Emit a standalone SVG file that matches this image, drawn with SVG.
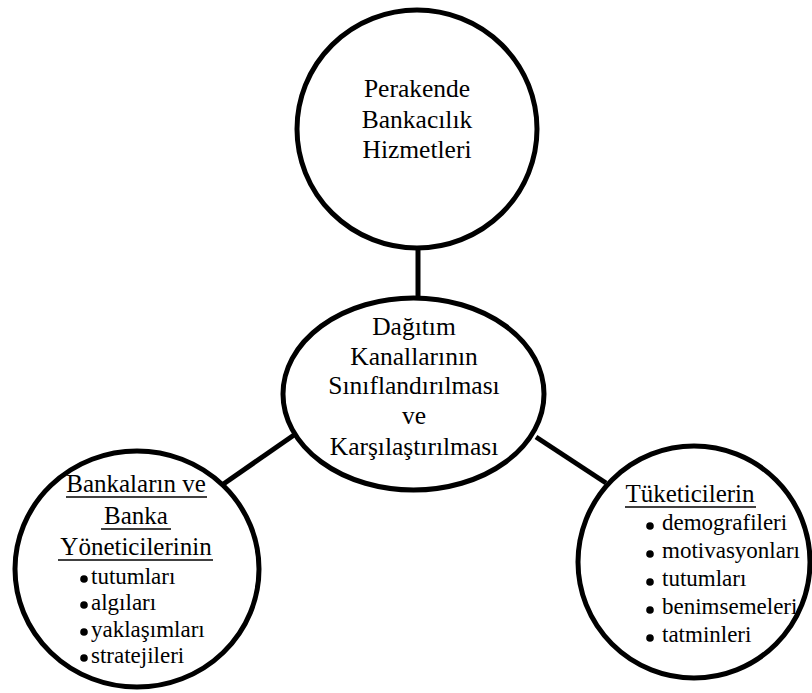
<svg xmlns="http://www.w3.org/2000/svg" width="812" height="693" viewBox="0 0 812 693">
  <style>
    .shape { fill: #ffffff; stroke: #000000; stroke-width: 5; }
    .link { stroke: #000000; stroke-width: 5; fill: none; }
    .t { font-family: "Liberation Serif", "Times New Roman", serif; fill: #000000; }
    .big { font-size: 25.5px; text-anchor: middle; }
    .head { font-size: 25px; text-anchor: middle; }
    .rule { stroke: #000000; stroke-width: 1.3; }
    .item { font-size: 23px; }
    .dot { fill: #000000; }
  </style>

  <!-- connectors -->
  <g id="connectors">
    <line class="link" x1="418" y1="248" x2="418" y2="300"/>
    <line class="link" x1="222" y1="485" x2="294" y2="435"/>
    <line class="link" x1="536" y1="437" x2="606" y2="483"/>
  </g>

  <!-- top node -->
  <g id="node-services">
    <ellipse class="shape" cx="417" cy="129" rx="120" ry="119"/>
    <text class="t big" x="417" y="97">Perakende</text>
    <text class="t big" x="417" y="128">Bankacılık</text>
    <text class="t big" x="417" y="158">Hizmetleri</text>
  </g>

  <!-- central node -->
  <g id="node-channels">
    <ellipse class="shape" cx="413.5" cy="394" rx="130.5" ry="96"/>
    <text class="t big" x="414" y="335">Dağıtım</text>
    <text class="t big" x="414" y="365">Kanallarının</text>
    <text class="t big" x="414" y="394">Sınıflandırılması</text>
    <text class="t big" x="414" y="424">ve</text>
    <text class="t big" x="414" y="455">Karşılaştırılması</text>
  </g>

  <!-- left node -->
  <g id="node-banks">
    <ellipse class="shape" cx="137" cy="569" rx="122" ry="118"/>
    <text class="t head" x="136" y="492">Bankaların ve</text>
    <line class="rule" x1="66" y1="497" x2="207" y2="497"/>
    <text class="t head" x="136" y="524">Banka</text>
    <line class="rule" x1="101" y1="529" x2="171" y2="529"/>
    <text class="t head" x="136" y="555">Yöneticilerinin</text>
    <line class="rule" x1="58" y1="560" x2="213" y2="560"/>
    <circle class="dot" cx="84" cy="579" r="3.8"/>
    <text class="t item" x="91" y="584">tutumları</text>
    <circle class="dot" cx="84" cy="605" r="3.8"/>
    <text class="t item" x="91" y="610">algıları</text>
    <circle class="dot" cx="84" cy="632" r="3.8"/>
    <text class="t item" x="91" y="637">yaklaşımları</text>
    <circle class="dot" cx="84" cy="658" r="3.8"/>
    <text class="t item" x="91" y="663">stratejileri</text>
  </g>

  <!-- right node -->
  <g id="node-consumers">
    <ellipse class="shape" cx="694" cy="562" rx="116" ry="116"/>
    <text class="t head" x="690" y="502">Tüketicilerin</text>
    <line class="rule" x1="625" y1="507" x2="756" y2="507"/>
    <circle class="dot" cx="650" cy="526" r="3.8"/>
    <text class="t item" x="662" y="530">demografileri</text>
    <circle class="dot" cx="650" cy="554" r="3.8"/>
    <text class="t item" x="662" y="558">motivasyonları</text>
    <circle class="dot" cx="650" cy="582" r="3.8"/>
    <text class="t item" x="662" y="586">tutumları</text>
    <circle class="dot" cx="650" cy="610" r="3.8"/>
    <text class="t item" x="662" y="614">benimsemeleri</text>
    <circle class="dot" cx="650" cy="638" r="3.8"/>
    <text class="t item" x="662" y="642">tatminleri</text>
  </g>
</svg>
